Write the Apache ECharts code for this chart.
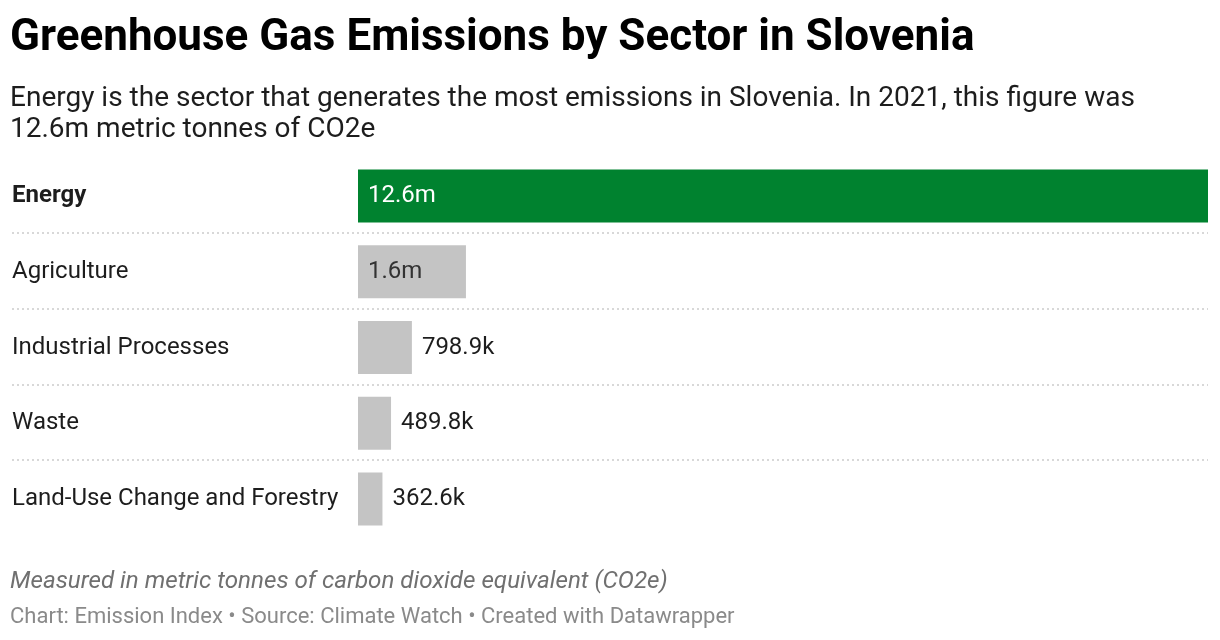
<!DOCTYPE html>
<html>
<head>
<meta charset="utf-8">
<script src="https://cdn.jsdelivr.net/npm/echarts@6/dist/echarts.min.js"></script>
<style>
  html, body { margin: 0; padding: 0; background: #fff; }
  #main { width: 1220px; height: 640px; }
</style>
</head>
<body>
<div id="main"></div>
<script>
// sectors, top to bottom
const sectors = ['Energy', 'Agriculture', 'Industrial Processes', 'Waste', 'Land-Use Change and Forestry'];
// emissions in millions of tonnes CO2e
const emissions = [12.6, 1.6, 0.7989, 0.4898, 0.3626];
const valueLabels = ['12.6m', '1.6m', '798.9k', '489.8k', '362.6k'];

const chart = echarts.init(document.getElementById('main'));
const FONT = 'Roboto';

const barData = emissions.map((v, i) => {
  const item = { value: v, itemStyle: { color: i === 0 ? '#00822f' : '#c4c4c4' } };
  if (i === 0) {
    item.label = { position: 'insideLeft', color: '#ffffff', distance: 10 };
  } else if (i === 1) {
    item.label = { position: 'insideLeft', color: '#333333', distance: 10 };
  } else {
    item.label = { position: 'right', color: '#1d1d1d', distance: 10 };
  }
  return item;
});

const option = {
  animation: false,
  textStyle: { fontFamily: FONT },
  title: [
    {
      text: 'Greenhouse Gas Emissions by Sector in Slovenia',
      left: 10, top: 17, padding: 0,
      textStyle: { fontFamily: FONT, fontSize: 44, fontWeight: 'bold', color: '#000' }
    },
    {
      text: 'Energy is the sector that generates the most emissions in Slovenia. In 2021, this figure was\n12.6m metric tonnes of CO2e',
      left: 10, top: 83, padding: 0,
      textStyle: { fontFamily: FONT, fontSize: 28, fontWeight: 'normal', color: '#1d1d1d', lineHeight: 31 }
    },
    {
      text: 'Measured in metric tonnes of carbon dioxide equivalent (CO2e)',
      left: 10, top: 570, padding: 0,
      textStyle: { fontFamily: FONT, fontSize: 24.2, fontStyle: 'italic', fontWeight: 'normal', color: '#707070' }
    },
    {
      text: 'Chart: Emission Index • Source: Climate Watch • Created with Datawrapper',
      left: 10, top: 606, padding: 0,
      textStyle: { fontFamily: FONT, fontSize: 22, fontWeight: 'normal', color: '#8a8a8a' }
    }
  ],
  grid: [
    { left: 358, right: 12, top: 158, bottom: 103 },
    { left: 12, right: 12, top: 233, bottom: 180 }
  ],
  xAxis: [
    { gridIndex: 0, type: 'value', min: 0, max: 12.6, show: false },
    { gridIndex: 1, type: 'value', min: 0, max: 1, show: false }
  ],
  yAxis: [
    {
      gridIndex: 0,
      type: 'category',
      data: sectors,
      inverse: true,
      axisLine: { show: false },
      axisTick: { show: false },
      splitLine: { show: false },
      axisLabel: {
        margin: 346,
        align: 'left',
        fontFamily: FONT,
        fontSize: 24,
        color: '#1d1d1d',
        formatter: (v) => v === 'Energy' ? '{b|' + v + '}' : v,
        rich: { b: { fontFamily: FONT, fontSize: 24, fontWeight: 'bold', color: '#1d1d1d' } }
      }
    },
    {
      gridIndex: 1,
      type: 'value',
      min: 0, max: 3, interval: 1,
      axisLine: { show: false },
      axisTick: { show: false },
      axisLabel: { show: false },
      splitLine: { show: true, lineStyle: { color: '#cccccc', width: 1.5, type: [2, 3] } }
    }
  ],
  series: [
    {
      type: 'bar',
      xAxisIndex: 0,
      yAxisIndex: 0,
      data: barData,
      barWidth: 53,
      label: {
        show: true,
        fontFamily: FONT,
        fontSize: 24,
        formatter: (p) => valueLabels[p.dataIndex]
      }
    }
  ]
};

chart.setOption(option);
</script>
</body>
</html>
